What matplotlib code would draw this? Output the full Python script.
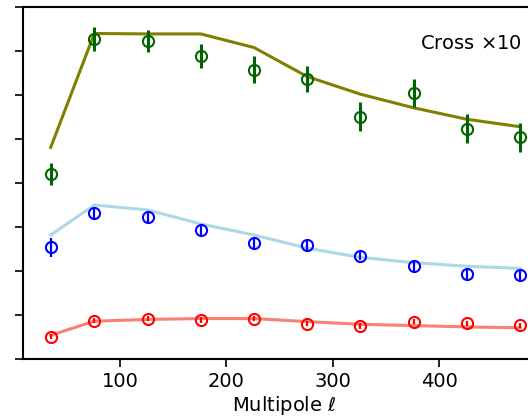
import matplotlib
matplotlib.use("Agg")
import matplotlib.pyplot as plt

# bin centres (multipole)
ell = [35, 76, 126, 176, 226, 276, 326, 376, 426, 476]

# cross spectrum (x10): data points, errors and model curve
cross_pts = [4.21, 7.27, 7.23, 6.89, 6.58, 6.36, 5.51, 6.05, 5.23, 5.04]
cross_err = [0.25, 0.27, 0.25, 0.27, 0.30, 0.30, 0.33, 0.32, 0.33, 0.33]
cross_model = [4.81, 7.40, 7.39, 7.39, 7.08, 6.42, 6.02, 5.71, 5.45, 5.28]

# blue series
blue_pts = [2.54, 3.31, 3.22, 2.93, 2.64, 2.59, 2.35, 2.11, 1.93, 1.91]
blue_err = [0.21, 0.11, 0.11, 0.12, 0.11, 0.11, 0.11, 0.11, 0.11, 0.11]
blue_model = [2.82, 3.50, 3.39, 3.07, 2.82, 2.52, 2.31, 2.19, 2.11, 2.06]

# red series
red_pts = [0.51, 0.87, 0.92, 0.89, 0.92, 0.80, 0.75, 0.85, 0.81, 0.77]
red_err = [0.05, 0.06, 0.06, 0.06, 0.06, 0.06, 0.06, 0.06, 0.06, 0.06]
red_model = [0.54, 0.86, 0.90, 0.92, 0.92, 0.85, 0.79, 0.76, 0.73, 0.71]

plt.rcParams['font.size'] = 14

fig = plt.figure(figsize=(5.28, 4.17), dpi=100)
ax = fig.add_axes([0.0436, 0.139, 0.99, 0.844])

ax.plot(ell, cross_model, color='olive', lw=2.2, zorder=1)
ax.plot(ell, blue_model, color='lightblue', lw=2.2, zorder=1)
ax.plot(ell, red_model, color='salmon', lw=2.2, zorder=1)

ax.errorbar(ell, cross_pts, yerr=cross_err, fmt='o', color='darkgreen', mfc='none',
            ms=8, mew=1.5, elinewidth=2.2, capsize=0, zorder=3)
ax.errorbar(ell, blue_pts, yerr=blue_err, fmt='o', color='blue', mfc='none',
            ms=8, mew=1.5, elinewidth=1.6, capsize=0, zorder=3)
ax.errorbar(ell, red_pts, yerr=red_err, fmt='o', color='red', mfc='none',
            ms=8, mew=1.5, elinewidth=1.6, capsize=0, zorder=3)

ax.text(382, 7.18, 'Cross $\\times$10', ha='left', va='center', fontsize=14)

ax.set_xlim(9, 500)
ax.set_ylim(0, 8)
ax.set_xticks([100, 200, 300, 400])
ax.set_yticks(range(9))
ax.set_yticklabels([])
ax.set_xlabel(r'Multipole $\ell$', labelpad=2)
ax.tick_params(length=6, width=1.2)
for s in ax.spines.values():
    s.set_linewidth(1.5)
ax.spines['right'].set_visible(False)

fig.savefig('out.png', dpi=100)
